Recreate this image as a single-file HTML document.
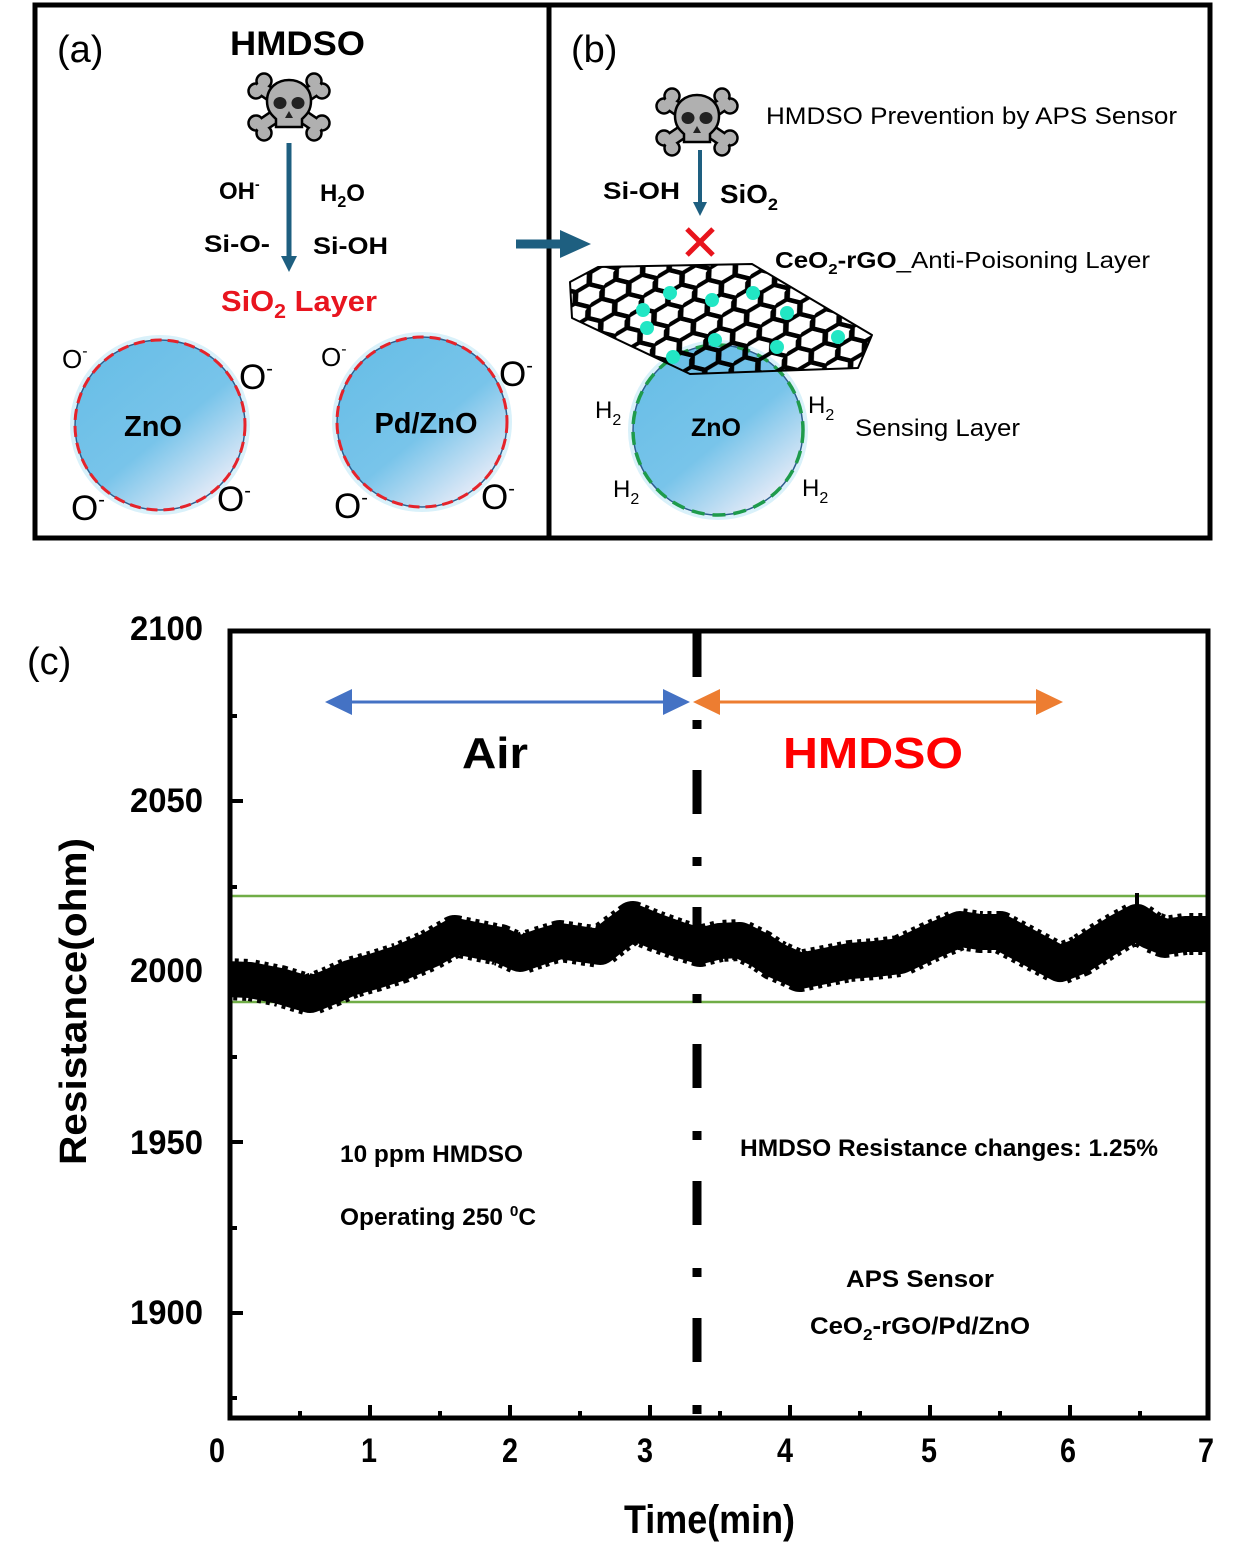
<!DOCTYPE html>
<html><head><meta charset="utf-8"><style>
html,body{margin:0;padding:0;background:#fff}
svg{display:block}
text{font-family:"Liberation Sans",Arial,sans-serif}
.b{font-weight:bold}
</style></head><body>
<svg width="1234" height="1566" viewBox="0 0 1234 1566" xmlns="http://www.w3.org/2000/svg">
<defs>
<linearGradient id="ball" x1="0.2" y1="0.15" x2="0.85" y2="0.95">
<stop offset="0" stop-color="#6bbfe7"/>
<stop offset="0.5" stop-color="#78c4ea"/>
<stop offset="1" stop-color="#f1eff9"/>
</linearGradient>
<pattern id="hex" width="45" height="25.98" patternUnits="userSpaceOnUse" patternTransform="translate(570,268) rotate(14) skewX(-22) scale(0.9,0.85)">
<path d="M0,12.99 L7.5,0 L22.5,0 L30,12.99 L22.5,25.98 L7.5,25.98 Z M30,12.99 L45,12.99" fill="none" stroke="#000" stroke-width="5.5" stroke-linejoin="round"/>
</pattern>
<clipPath id="plot"><rect x="232" y="633" width="976" height="783"/></clipPath>
</defs>
<rect width="1234" height="1566" fill="#fff"/>

<!-- Panel borders -->
<rect x="35" y="5" width="1175" height="533" fill="none" stroke="#000" stroke-width="5"/>
<line x1="549" y1="5" x2="549" y2="538" stroke="#000" stroke-width="5"/>

<!-- ===== Panel (a) ===== -->
<text x="57" y="62" font-size="38">(a)</text>
<text x="230" y="55" font-size="34" class="b" textLength="135" lengthAdjust="spacingAndGlyphs">HMDSO</text>

<!-- skull a -->
<g transform="translate(289,106)">
<g stroke="#000" stroke-width="15" stroke-linecap="round"><line x1="-28" y1="-18" x2="28" y2="20"/><line x1="-28" y1="20" x2="28" y2="-18"/></g>
<g fill="#b0b0b0" stroke="#000" stroke-width="2.5">
<circle cx="-33" cy="-15" r="7.5"/><circle cx="-25" cy="-25" r="7.5"/>
<circle cx="33" cy="-15" r="7.5"/><circle cx="25" cy="-25" r="7.5"/>
<circle cx="-33" cy="17" r="7.5"/><circle cx="-25" cy="27" r="7.5"/>
<circle cx="33" cy="17" r="7.5"/><circle cx="25" cy="27" r="7.5"/>
</g>
<g stroke="#b0b0b0" stroke-width="10" stroke-linecap="round"><line x1="-28" y1="-18" x2="28" y2="20"/><line x1="-28" y1="20" x2="28" y2="-18"/></g>
<g fill="#b0b0b0" stroke="#000" stroke-width="2.5">
<path d="M-22,-5 C-22,-33 22,-33 22,-5 C22,6 16,10 13,13 L13,21 L-13,21 L-13,13 C-16,10 -22,6 -22,-5 Z"/>
</g>
<ellipse cx="-9" cy="-3" rx="6.5" ry="6" fill="#222"/><ellipse cx="9" cy="-3" rx="6.5" ry="6" fill="#222"/>
<path d="M0,5 L-4,12 L4,12 Z" fill="#222"/>
</g>

<line x1="289" y1="143" x2="289" y2="258" stroke="#1e5f80" stroke-width="5"/>
<path d="M281,256 L297,256 L289,272 Z" fill="#1e5f80"/>

<text x="219" y="199" font-size="24" class="b">OH<tspan dy="-10" font-size="14">-</tspan></text>
<text x="320" y="201" font-size="24" class="b">H<tspan dy="6" font-size="16">2</tspan><tspan dy="-6">O</tspan></text>
<text x="204" y="252" font-size="24" class="b" textLength="66" lengthAdjust="spacingAndGlyphs">Si-O-</text>
<text x="313" y="254" font-size="24" class="b" textLength="75" lengthAdjust="spacingAndGlyphs">Si-OH</text>
<text x="221" y="311" font-size="29" class="b" fill="#e8151f" textLength="156" lengthAdjust="spacingAndGlyphs">SiO<tspan dy="7" font-size="20">2</tspan><tspan dy="-7"> Layer</tspan></text>

<!-- ZnO ball -->
<circle cx="160" cy="425" r="88" fill="none" stroke="#d9f1fa" stroke-width="4"/>
<circle cx="160" cy="425" r="85" fill="url(#ball)"/>
<circle cx="160" cy="425" r="85" fill="none" stroke="#2d5e8e" stroke-width="1.5"/>
<circle cx="160" cy="425" r="85" fill="none" stroke="#e5232b" stroke-width="3" stroke-dasharray="11 6"/>
<text x="153" y="436" font-size="29" class="b" text-anchor="middle">ZnO</text>

<!-- Pd/ZnO ball -->
<circle cx="422" cy="422" r="88" fill="none" stroke="#d9f1fa" stroke-width="4"/>
<circle cx="422" cy="422" r="85" fill="url(#ball)"/>
<circle cx="422" cy="422" r="85" fill="none" stroke="#2d5e8e" stroke-width="1.5"/>
<circle cx="422" cy="422" r="85" fill="none" stroke="#e5232b" stroke-width="3" stroke-dasharray="11 6"/>
<text x="426" y="433" font-size="29" class="b" text-anchor="middle">Pd/ZnO</text>

<g font-size="35">
<text x="62" y="368" font-size="26">O<tspan dy="-12" font-size="16">-</tspan></text>
<text x="239" y="389">O<tspan dy="-14" font-size="20">-</tspan></text>
<text x="71" y="520">O<tspan dy="-14" font-size="20">-</tspan></text>
<text x="217" y="511">O<tspan dy="-14" font-size="20">-</tspan></text>
<text x="321" y="366" font-size="26">O<tspan dy="-12" font-size="16">-</tspan></text>
<text x="499" y="386">O<tspan dy="-14" font-size="20">-</tspan></text>
<text x="334" y="518">O<tspan dy="-14" font-size="20">-</tspan></text>
<text x="481" y="509">O<tspan dy="-14" font-size="20">-</tspan></text>
</g>

<!-- big arrow between panels -->
<line x1="516" y1="244" x2="564" y2="244" stroke="#1e5f80" stroke-width="9"/>
<path d="M560,230 L591,244 L560,258 Z" fill="#1e5f80"/>

<!-- ===== Panel (b) ===== -->
<text x="571" y="62" font-size="38">(b)</text>

<g transform="translate(697,121)">
<g stroke="#000" stroke-width="15" stroke-linecap="round"><line x1="-28" y1="-18" x2="28" y2="20"/><line x1="-28" y1="20" x2="28" y2="-18"/></g>
<g fill="#b0b0b0" stroke="#000" stroke-width="2.5">
<circle cx="-33" cy="-15" r="7.5"/><circle cx="-25" cy="-25" r="7.5"/>
<circle cx="33" cy="-15" r="7.5"/><circle cx="25" cy="-25" r="7.5"/>
<circle cx="-33" cy="17" r="7.5"/><circle cx="-25" cy="27" r="7.5"/>
<circle cx="33" cy="17" r="7.5"/><circle cx="25" cy="27" r="7.5"/>
</g>
<g stroke="#b0b0b0" stroke-width="10" stroke-linecap="round"><line x1="-28" y1="-18" x2="28" y2="20"/><line x1="-28" y1="20" x2="28" y2="-18"/></g>
<g fill="#b0b0b0" stroke="#000" stroke-width="2.5">
<path d="M-22,-5 C-22,-33 22,-33 22,-5 C22,6 16,10 13,13 L13,21 L-13,21 L-13,13 C-16,10 -22,6 -22,-5 Z"/>
</g>
<ellipse cx="-9" cy="-3" rx="6.5" ry="6" fill="#222"/><ellipse cx="9" cy="-3" rx="6.5" ry="6" fill="#222"/>
<path d="M0,5 L-4,12 L4,12 Z" fill="#222"/>
</g>

<text x="766" y="124" font-size="24" textLength="411" lengthAdjust="spacingAndGlyphs">HMDSO Prevention by APS Sensor</text>

<line x1="700" y1="150" x2="700" y2="204" stroke="#1e5f80" stroke-width="4"/>
<path d="M693,202 L707,202 L700,216 Z" fill="#1e5f80"/>

<text x="603" y="199" font-size="24" class="b" textLength="77" lengthAdjust="spacingAndGlyphs">Si-OH</text>
<text x="720" y="203" font-size="26" class="b" textLength="58" lengthAdjust="spacingAndGlyphs">SiO<tspan dy="7" font-size="17">2</tspan></text>

<g stroke="#e8141c" stroke-width="5"><line x1="687" y1="229" x2="713" y2="255"/><line x1="713" y1="229" x2="687" y2="255"/></g>

<text x="775" y="268" font-size="23" textLength="375" lengthAdjust="spacingAndGlyphs"><tspan font-weight="bold">CeO<tspan dy="6" font-size="15">2</tspan><tspan dy="-6">-rGO</tspan></tspan>_Anti-Poisoning Layer</text>

<!-- ZnO ball b -->
<circle cx="718" cy="430" r="88" fill="none" stroke="#d9f1fa" stroke-width="4"/>
<circle cx="718" cy="430" r="85" fill="url(#ball)"/>
<circle cx="718" cy="430" r="85" fill="none" stroke="#2d5e8e" stroke-width="1.5"/>
<circle cx="718" cy="430" r="85" fill="none" stroke="#1e9b4b" stroke-width="3.5" stroke-dasharray="13 8"/>
<text x="716" y="436" font-size="25" class="b" text-anchor="middle">ZnO</text>

<!-- graphene sheet -->
<polygon points="570,282 598,267 752,264 872,335 858,368 690,374 572,318" fill="url(#hex)" stroke="#000" stroke-width="2" stroke-linejoin="round"/>
<g fill="#22e6c4">
<circle cx="670" cy="293" r="7"/><circle cx="712" cy="300" r="7"/><circle cx="753" cy="293" r="7"/>
<circle cx="643" cy="310" r="7"/><circle cx="787" cy="313" r="7"/><circle cx="647" cy="328" r="7"/>
<circle cx="715" cy="340" r="7"/><circle cx="838" cy="337" r="7"/><circle cx="777" cy="347" r="7"/>
<circle cx="673" cy="357" r="7"/>
</g>

<g font-size="24">
<text x="595" y="418">H<tspan dy="7" font-size="16">2</tspan></text>
<text x="808" y="413">H<tspan dy="7" font-size="16">2</tspan></text>
<text x="613" y="497">H<tspan dy="7" font-size="16">2</tspan></text>
<text x="802" y="496">H<tspan dy="7" font-size="16">2</tspan></text>
</g>
<text x="855" y="436" font-size="24" textLength="165" lengthAdjust="spacingAndGlyphs">Sensing Layer</text>

<!-- ===== Panel (c) chart ===== -->
<text x="27" y="674" font-size="38">(c)</text>

<!-- green lines -->
<line x1="230" y1="896" x2="1208" y2="896" stroke="#70ad47" stroke-width="2.5"/>
<line x1="230" y1="1002" x2="1208" y2="1002" stroke="#70ad47" stroke-width="2.5"/>

<!-- data band -->
<g clip-path="url(#plot)" fill="none" stroke="#000" stroke-linejoin="round">
<polyline stroke-width="36" points="225,979 250,980 280,986 310,995 330,987 350,978 375,971 400,963 430,950 455,936 480,941 500,945 520,954 540,947 560,941 580,944 600,947 615,935 633,922 655,931 680,940 700,946 720,941 740,940 760,950 775,960 800,971 825,966 850,961 875,959 900,956 930,942 960,929 980,932 1000,932 1030,948 1060,964 1080,956 1100,943 1120,931 1137,922 1150,931 1165,937 1185,934 1215,934"/>
<polyline stroke-width="42" stroke-dasharray="4 5" points="225,979 250,980 280,986 310,995 330,987 350,978 375,971 400,963 430,950 455,936 480,941 500,945 520,954 540,947 560,941 580,944 600,947 615,935 633,922 655,931 680,940 700,946 720,941 740,940 760,950 775,960 800,971 825,966 850,961 875,959 900,956 930,942 960,929 980,932 1000,932 1030,948 1060,964 1080,956 1100,943 1120,931 1137,922 1150,931 1165,937 1185,934 1215,934"/>
<line x1="1137" y1="893" x2="1137" y2="912" stroke-width="4"/>
</g>

<!-- dash-dot vertical -->
<line x1="697" y1="633" x2="697" y2="1416" stroke="#000" stroke-width="9" stroke-dasharray="44 43 9 41"/>

<!-- arrows -->
<line x1="345" y1="702" x2="672" y2="702" stroke="#4472c4" stroke-width="3"/>
<path d="M325,702 L352,689 L352,715 Z" fill="#4472c4"/>
<path d="M690,702 L663,689 L663,715 Z" fill="#4472c4"/>
<line x1="712" y1="702" x2="1045" y2="702" stroke="#ed7d31" stroke-width="3"/>
<path d="M693,702 L720,689 L720,715 Z" fill="#ed7d31"/>
<path d="M1063,702 L1036,689 L1036,715 Z" fill="#ed7d31"/>

<text x="462" y="768" font-size="44" class="b" textLength="66" lengthAdjust="spacingAndGlyphs">Air</text>
<text x="783" y="768" font-size="44" class="b" fill="#ff0000" textLength="180" lengthAdjust="spacingAndGlyphs">HMDSO</text>

<!-- frame -->
<rect x="230" y="631" width="978" height="787" fill="none" stroke="#000" stroke-width="5"/>

<!-- y ticks -->
<g stroke="#000" stroke-width="4">
<line x1="230" y1="801" x2="243" y2="801"/><line x1="230" y1="972" x2="243" y2="972"/>
<line x1="230" y1="1142" x2="243" y2="1142"/><line x1="230" y1="1313" x2="243" y2="1313"/>
<line x1="230" y1="716" x2="237" y2="716"/><line x1="230" y1="887" x2="237" y2="887"/>
<line x1="230" y1="1057" x2="237" y2="1057"/><line x1="230" y1="1228" x2="237" y2="1228"/>
<line x1="230" y1="1398" x2="237" y2="1398"/>
<!-- x ticks -->
<line x1="370" y1="1418" x2="370" y2="1405"/><line x1="510" y1="1418" x2="510" y2="1405"/>
<line x1="650" y1="1418" x2="650" y2="1405"/><line x1="790" y1="1418" x2="790" y2="1405"/>
<line x1="930" y1="1418" x2="930" y2="1405"/><line x1="1070" y1="1418" x2="1070" y2="1405"/>
<line x1="300" y1="1418" x2="300" y2="1411"/><line x1="440" y1="1418" x2="440" y2="1411"/>
<line x1="580" y1="1418" x2="580" y2="1411"/><line x1="720" y1="1418" x2="720" y2="1411"/>
<line x1="860" y1="1418" x2="860" y2="1411"/><line x1="1000" y1="1418" x2="1000" y2="1411"/>
<line x1="1140" y1="1418" x2="1140" y2="1411"/>
</g>

<!-- y tick labels -->
<g font-size="34" class="b">
<text x="130" y="640" textLength="73" lengthAdjust="spacingAndGlyphs">2100</text>
<text x="130" y="812" textLength="73" lengthAdjust="spacingAndGlyphs">2050</text>
<text x="130" y="982" textLength="73" lengthAdjust="spacingAndGlyphs">2000</text>
<text x="130" y="1154" textLength="73" lengthAdjust="spacingAndGlyphs">1950</text>
<text x="130" y="1324" textLength="73" lengthAdjust="spacingAndGlyphs">1900</text>
</g>
<!-- x tick labels -->
<g font-size="34" class="b">
<text x="209" y="1462" textLength="16" lengthAdjust="spacingAndGlyphs">0</text>
<text x="361" y="1462" textLength="16" lengthAdjust="spacingAndGlyphs">1</text>
<text x="502" y="1462" textLength="16" lengthAdjust="spacingAndGlyphs">2</text>
<text x="637" y="1462" textLength="16" lengthAdjust="spacingAndGlyphs">3</text>
<text x="777" y="1462" textLength="16" lengthAdjust="spacingAndGlyphs">4</text>
<text x="921" y="1462" textLength="16" lengthAdjust="spacingAndGlyphs">5</text>
<text x="1060" y="1462" textLength="16" lengthAdjust="spacingAndGlyphs">6</text>
<text x="1198" y="1462" textLength="16" lengthAdjust="spacingAndGlyphs">7</text>
</g>

<text x="624" y="1533" font-size="40" class="b" textLength="171" lengthAdjust="spacingAndGlyphs">Time(min)</text>
<text transform="translate(86,1165) rotate(-90)" x="0" y="0" font-size="38" class="b" textLength="327" lengthAdjust="spacingAndGlyphs">Resistance(ohm)</text>

<!-- annotations -->
<g font-size="24" class="b">
<text x="340" y="1162" textLength="183" lengthAdjust="spacingAndGlyphs">10 ppm HMDSO</text>
<text x="340" y="1225" textLength="196" lengthAdjust="spacingAndGlyphs">Operating 250 <tspan dy="-9" font-size="15">0</tspan><tspan dy="9">C</tspan></text>
<text x="740" y="1156" textLength="418" lengthAdjust="spacingAndGlyphs">HMDSO Resistance changes: 1.25%</text>
<text x="846" y="1287" textLength="148" lengthAdjust="spacingAndGlyphs">APS Sensor</text>
<text x="810" y="1334" textLength="220" lengthAdjust="spacingAndGlyphs">CeO<tspan dy="6" font-size="16">2</tspan><tspan dy="-6">-rGO/Pd/ZnO</tspan></text>
</g>
</svg>
</body></html>
